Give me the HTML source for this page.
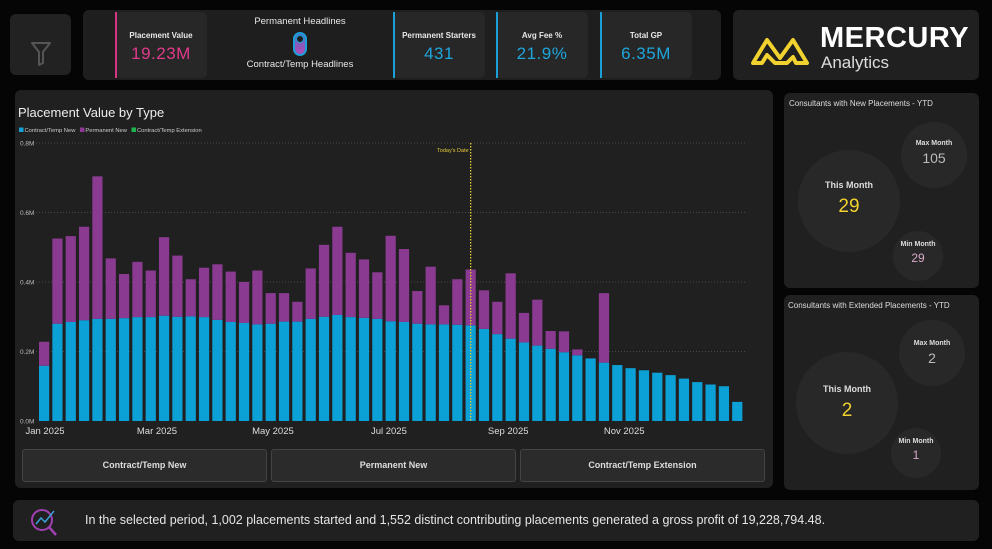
<!DOCTYPE html>
<html><head><meta charset="utf-8"><style>
*{box-sizing:border-box;margin:0;padding:0}
body{width:992px;height:549px;background:#050505;font-family:"Liberation Sans",sans-serif;color:#ddd;position:relative;overflow:hidden}
.p{position:absolute;background:#202020;border-radius:6px}
.card{position:absolute;background:#272727;border-radius:5px;text-align:center}
.card .acc{position:absolute;left:0;top:0;bottom:0;width:2px}
.card .t{font-size:8px;font-weight:bold;color:#e8e8e8;margin-top:19px}
.card .v{font-size:17px;margin-top:4px;letter-spacing:0.5px}
.btn{position:absolute;top:449px;height:33px;width:245px;background:#2b2b2b;border:1px solid #444;border-radius:3px;font-size:9px;font-weight:bold;color:#ddd;text-align:center;line-height:31px}
.c{position:absolute;border-radius:50%;background:#282828;text-align:center}
</style></head><body>
<div class="p" style="left:10px;top:14px;width:61px;height:61px;background:#222">
<svg width="61" height="61" viewBox="0 0 61 61"><path d="M22 29 H40 L33 38 V49 L29 51 V38 Z" fill="none" stroke="#555" stroke-width="2" stroke-linejoin="round"/></svg>
</div>
<div class="p" style="left:83px;top:10px;width:638px;height:70px;background:#1e1e1e">
<div class="card" style="left:32px;top:2px;width:92px;height:66px"><div class="acc" style="background:#d63584"></div><div class="t">Placement Value</div><div class="v" style="color:#e03a8c">19.23M</div></div>
<div style="position:absolute;left:124px;top:2px;width:186px;height:66px;text-align:center">
<div style="font-size:9.5px;color:#e8e8e8;margin-top:4px">Permanent Headlines</div>
<div style="margin:5px auto 0;width:14px;height:24px;border-radius:7px;background:linear-gradient(#5a6ac0,#b04bb8);border:2px solid #1aa0d8;position:relative"><div style="width:8px;height:8px;border-radius:50%;background:#1e1e1e;border:1px solid #1aa0d8;position:absolute;left:1px;top:1px"></div></div>
<div style="font-size:9.5px;color:#e8e8e8;margin-top:3px">Contract/Temp Headlines</div></div>
<div class="card" style="left:310px;top:2px;width:92px;height:66px"><div class="acc" style="background:#1a9fd6"></div><div class="t">Permanent Starters</div><div class="v" style="color:#1ea6dc">431</div></div>
<div class="card" style="left:413px;top:2px;width:92px;height:66px"><div class="acc" style="background:#1a9fd6"></div><div class="t">Avg Fee %</div><div class="v" style="color:#1ea6dc">21.9%</div></div>
<div class="card" style="left:517px;top:2px;width:92px;height:66px"><div class="acc" style="background:#1a9fd6"></div><div class="t">Total GP</div><div class="v" style="color:#1ea6dc">6.35M</div></div>
</div>
<div class="p" style="left:733px;top:10px;width:246px;height:70px">
<svg width="80" height="60" style="position:absolute;left:14px;top:12px"><path d="M6 41 L20 18 L33 36 L46 18 L60 41 L49 41 L46 35 L40 41 L28 41 L20 33 L15 41 Z" fill="none" stroke="#f2d22e" stroke-width="4" stroke-linejoin="round"/></svg>
<div style="position:absolute;left:87px;top:12px;font-size:29px;font-weight:bold;color:#fff;letter-spacing:0.5px">MERCURY</div>
<div style="position:absolute;left:88px;top:43px;font-size:17px;color:#ddd">Analytics</div>
</div>
<div class="p" style="left:15px;top:90px;width:758px;height:398px">
<div style="position:absolute;left:3px;top:15px;font-size:13px;color:#eee">Placement Value by Type</div>
</div>
<svg id="chart" width="992" height="549" style="position:absolute;left:0;top:0"></svg>
<div class="btn" style="left:22px">Contract/Temp New</div>
<div class="btn" style="left:271px">Permanent New</div>
<div class="btn" style="left:520px">Contract/Temp Extension</div>

<div class="p" style="left:784px;top:93px;width:195px;height:195px">
<div style="position:absolute;left:5px;top:6px;font-size:8px;color:#ddd">Consultants with New Placements - YTD</div>
</div>
<div class="c" style="left:798px;top:150px;width:102px;height:102px"><div style="font-size:9px;font-weight:bold;margin-top:30px">This Month</div><div style="font-size:19px;color:#f2d22e;margin-top:6px">29</div></div>
<div class="c" style="left:901px;top:122px;width:66px;height:66px"><div style="font-size:7px;font-weight:bold;margin-top:18px">Max Month</div><div style="font-size:14px;color:#bbb;margin-top:3px">105</div></div>
<div class="c" style="left:893px;top:231px;width:50px;height:50px"><div style="font-size:7px;font-weight:bold;margin-top:10px">Min Month</div><div style="font-size:12px;color:#d8a8c8;margin-top:3px">29</div></div>

<div class="p" style="left:784px;top:295px;width:195px;height:195px">
<div style="position:absolute;left:4px;top:6px;font-size:8px;color:#ddd">Consultants with Extended Placements - YTD</div>
</div>
<div class="c" style="left:796px;top:352px;width:102px;height:102px"><div style="font-size:9px;font-weight:bold;margin-top:32px">This Month</div><div style="font-size:19px;color:#f2d22e;margin-top:6px">2</div></div>
<div class="c" style="left:899px;top:320px;width:66px;height:66px"><div style="font-size:7px;font-weight:bold;margin-top:20px">Max Month</div><div style="font-size:14px;color:#bbb;margin-top:3px">2</div></div>
<div class="c" style="left:891px;top:428px;width:50px;height:50px"><div style="font-size:7px;font-weight:bold;margin-top:10px">Min Month</div><div style="font-size:12px;color:#d8a8c8;margin-top:3px">1</div></div>

<div class="p" style="left:13px;top:500px;width:966px;height:41px">
<svg width="40" height="36" style="position:absolute;left:14px;top:3px"><circle cx="15" cy="17" r="10" fill="none" stroke="#a040b0" stroke-width="2"/><line x1="22" y1="24" x2="29" y2="32" stroke="#a040b0" stroke-width="2.5"/><polyline points="9,21 14,15 18,19 27,8" fill="none" stroke="#3aa0d8" stroke-width="1.5"/></svg>
<div style="position:absolute;left:72px;top:13px;font-size:12.5px;color:#e6e6e6">In the selected period, 1,002 placements started and 1,552 distinct contributing placements generated a gross profit of 19,228,794.48.</div>
</div>
<script>
const contractNew=[0.159,0.280,0.285,0.290,0.294,0.294,0.296,0.299,0.299,0.303,0.300,0.301,0.299,0.291,0.285,0.282,0.278,0.280,0.286,0.286,0.294,0.300,0.305,0.299,0.297,0.294,0.287,0.285,0.280,0.278,0.278,0.277,0.275,0.265,0.250,0.237,0.226,0.217,0.208,0.198,0.189,0.180,0.168,0.161,0.152,0.146,0.139,0.132,0.122,0.112,0.105,0.100,0.055];
const totals=[0.228,0.525,0.532,0.559,0.704,0.468,0.423,0.458,0.433,0.529,0.476,0.408,0.441,0.451,0.430,0.400,0.433,0.368,0.368,0.343,0.439,0.507,0.559,0.484,0.465,0.428,0.533,0.495,0.374,0.444,0.333,0.408,0.436,0.376,0.343,0.425,0.311,0.349,0.259,0.258,0.206,0.180,0.368,0.161,0.152,0.146,0.139,0.132,0.122,0.112,0.105,0.100,0.055];
const permanentNew=totals.map((t,i)=>Math.max(0,+(t-contractNew[i]).toFixed(3)));
const yTicks=[0,0.2,0.4,0.6,0.8];
const yTickLabels=["0.0M","0.2M","0.4M","0.6M","0.8M"];
const xTickLabels=["Jan 2025","Mar 2025","May 2025","Jul 2025","Sep 2025","Nov 2025"];
const xTickWeeks=[0.45,8.85,17.55,26.25,35.2,43.9];
const todayWeek=32;
const legendItems=["Contract/Temp New","Permanent New","Contract/Temp Extension"];
const legendColors=["#17a0d6","#8e3a94","#1fb350"];

const svg=document.getElementById('chart');const NS='http://www.w3.org/2000/svg';
const y0=421,pxPerM=347.5,x0=39,pitch=13.33,bw=10.2;
const Y=v=>y0-v*pxPerM, X=i=>x0+i*pitch;
function mk(t,a){const e=document.createElementNS(NS,t);for(const k in a)e.setAttribute(k,a[k]);svg.appendChild(e);return e;}
yTicks.forEach((v,i)=>{
  if(v>0){const g=mk('line',{x1:36,x2:745,y1:Y(v),y2:Y(v),stroke:'#555','stroke-dasharray':'1,2','stroke-width':0.8});
  
  }
  const t=mk('text',{x:20,y:Y(v)+2.5,fill:'#bbb','font-size':6.5});t.textContent=yTickLabels[i];
  
  
});
contractNew.forEach((v,i)=>{
  const b=mk('rect',{x:X(i),y:Y(v),width:bw,height:v*pxPerM,fill:'#0ba1d6'});
  
  
  const p=permanentNew[i];
  if(p>0){const r=mk('rect',{x:X(i),y:Y(v+p),width:bw,height:p*pxPerM,fill:'#8a3a90'});
  
  }
});
xTickLabels.forEach((l,i)=>{
  const t=mk('text',{x:X(xTickWeeks[i]),y:434,fill:'#ddd','font-size':9.5,'text-anchor':'middle'});t.textContent=l;
  
  
});
const tx=X(todayWeek)+bw/2;
const tl=mk('line',{x1:tx,x2:tx,y1:143,y2:421,stroke:'#e8c93a','stroke-dasharray':'1.5,1.5','stroke-width':1.3});


const tt=mk('text',{x:tx-2,y:152,fill:'#e8c93a','font-size':5.5,'text-anchor':'end'});tt.textContent="Today's Date";


let lx=19;
legendItems.forEach((l,i)=>{
  const s=mk('rect',{x:lx,y:127.5,width:4.5,height:4.5,fill:legendColors[i]});
  
  
  const t=mk('text',{x:lx+5.5,y:132,fill:'#ccc','font-size':5.8});t.textContent=l;
  
  
  lx+=7+t.getComputedTextLength()+3;
});
</script>
</body></html>
